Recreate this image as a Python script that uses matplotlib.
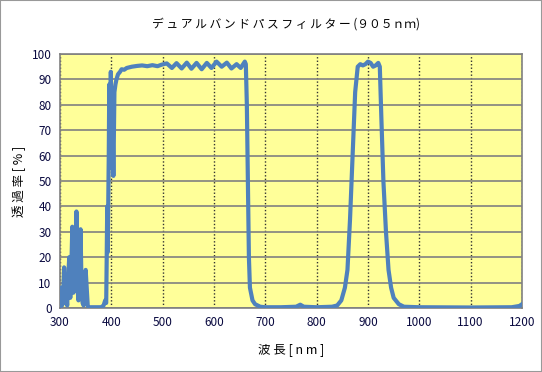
import numpy as np
import matplotlib
matplotlib.use("Agg")
import matplotlib.pyplot as plt

plt.rcParams["font.family"] = ["Noto Sans CJK JP", "DejaVu Sans"]

# transmission curve (wavelength nm, transmittance %)
wavelength = [
    300, 302, 304, 306, 308, 310, 312, 314, 316, 318, 320, 322, 324, 326, 328,
    330, 332, 334, 336, 338, 340, 342, 344, 346, 348, 350, 352, 354, 356, 360,
    370, 380, 385, 388, 390, 391, 392, 393, 395, 396, 398, 399, 401, 402, 404,
    406, 408, 410, 413, 417, 420, 425, 430, 440, 450, 460, 470, 480, 490, 498,
    508, 518, 527, 537, 547, 556, 566, 576, 586, 595, 605, 615, 625, 634, 644,
    652, 660, 662, 664, 666, 668, 670, 675, 680, 690, 700, 730, 760, 768, 775,
    800, 830, 840, 848, 855, 860, 865, 870, 875, 880, 885, 890, 895, 900, 905,
    910, 915, 920, 923, 926, 930, 935, 940, 945, 950, 960, 970, 1000, 1100,
    1180, 1195, 1200,
]
transmittance = [
    0, 8, 1, 3, 16, 2, 6, 1, 12, 20, 4, 15, 32, 6, 28,
    10, 38, 8, 3, 12, 31, 8, 2, 1, 5, 15, 8, 1, 0, 0.3,
    0.3, 0.3, 1, 3, 2, 20, 40, 22, 60, 88, 70, 93, 55, 80, 52,
    85, 88, 90, 92, 93, 94, 93.8, 94.5, 95, 95.3, 95.5, 95.2, 95.6, 95.2, 95.8,
    96.3, 94.5, 96.4, 94.3, 96.6, 94.2, 96.5, 94.0, 96.5, 94.5, 97.0, 95.0, 96.6, 94.3, 96.0,
    94.5, 97.0, 96.0, 80, 50, 20, 8, 3, 1.5, 0.5, 0.3, 0.3, 0.5, 1.3, 0.5,
    0.3, 0.5, 1, 3, 8, 15, 35, 60, 85, 95, 96, 95.5, 96, 97, 96.5,
    95, 95.5, 96.5, 95, 75, 50, 30, 15, 8, 4, 1.5, 0.5, 0.3, 0.2,
    0.3, 0.8, 1.5,
]

fig = plt.figure(figsize=(5.42, 3.72), dpi=100)
ax = fig.add_axes([60 / 542, 1 - 308 / 372, 462 / 542, 254 / 372])
ax.set_facecolor("#FFFF99")

ax.plot(wavelength, transmittance, color="#4F81BD", lw=3.0,
        solid_joinstyle="round", zorder=3)

ax.set_xlim(300, 1200)
ax.set_ylim(0, 100)
ax.set_xticks(np.arange(300, 1201, 100))
ax.set_yticks(np.arange(0, 101, 10))
ax.yaxis.grid(True, color="#808080", lw=1.2, ls="-")
ax.xaxis.grid(True, color="#333333", lw=1.0, ls=(0, (1, 1.5)))
ax.set_axisbelow(True)
for s in ax.spines.values():
    s.set_color("#808080")
    s.set_linewidth(1.2)
ax.tick_params(length=0, labelsize=8.5, colors="#0a0a40", pad=6)

ax.set_xlabel("波 長 [ n m ]", fontsize=9, labelpad=10)
ax.set_ylabel("透 過 率 [ % ]", fontsize=9, labelpad=4)
fig.text(0.527, 0.935, "デ ュ ア ル バ ン ド パ ス フ ィ ル タ ー (９０５ｎｍ)",
         ha="center", va="center", fontsize=8.5)

fig.patches.append(plt.Rectangle((0, 0), 1, 1, transform=fig.transFigure,
                                 fill=False, edgecolor="#999999", lw=1.5))
fig.savefig("out.png", dpi=100)
